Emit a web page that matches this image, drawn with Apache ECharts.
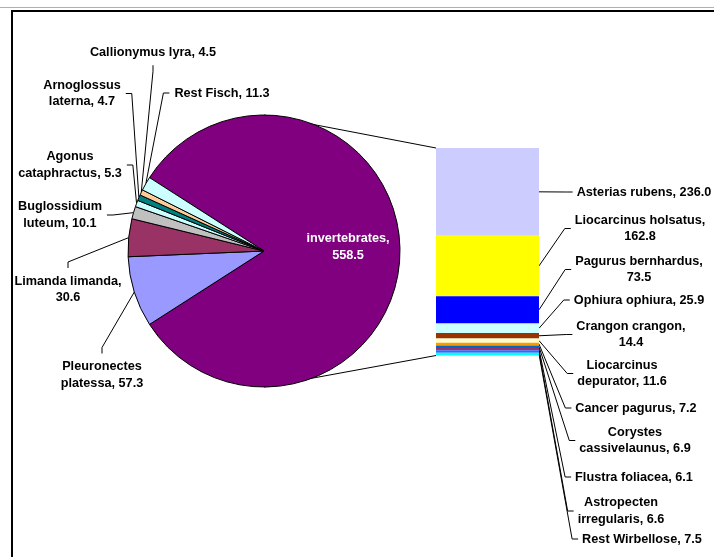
<!DOCTYPE html>
<html>
<head>
<meta charset="utf-8">
<script src="https://cdn.jsdelivr.net/npm/echarts@6/dist/echarts.min.js"></script>
<style>
  html, body { margin: 0; padding: 0; background: #fff; }
  #chart { width: 714px; height: 557px; }
</style>
</head>
<body>
<div id="chart"></div>
<script>
// main pie: invertebrates + fish species
const pieNames = ["invertebrates", "Pleuronectes platessa", "Limanda limanda", "Buglossidium luteum",
  "Agonus cataphractus", "Arnoglossus laterna", "Callionymus lyra", "Rest Fisch"];
const pieValues = [558.5, 57.3, 30.6, 10.1, 5.3, 4.7, 4.5, 11.3];
const pieColors = ["#800080", "#9999FF", "#993366", "#C0C0C0", "#CCFFFF", "#008080", "#FFCC99", "#CCFFFF"];
const pieLabels = ["invertebrates,\n558.5", "Pleuronectes\nplatessa, 57.3", "Limanda limanda,\n30.6",
  "Buglossidium\nluteum, 10.1", "Agonus\ncataphractus, 5.3", "Arnoglossus\nlaterna, 4.7",
  "Callionymus lyra, 4.5", "Rest Fisch, 11.3"];

// stacked bar: breakdown of invertebrates
const barNames = ["Asterias rubens", "Liocarcinus holsatus", "Pagurus bernhardus", "Ophiura ophiura",
  "Crangon crangon", "Liocarcinus depurator", "Cancer pagurus", "Corystes cassivelaunus",
  "Flustra foliacea", "Astropecten irregularis", "Rest Wirbellose"];
const barValues = [236.0, 162.8, 73.5, 25.9, 14.4, 11.6, 7.2, 6.9, 6.1, 6.6, 7.5];
const barColors = ["#CCCCFF", "#FFFF00", "#0000FF", "#CCFFFF", "#993300", "#FFFFCC", "#FF9900",
  "#0066CC", "#993366", "#3366FF", "#00FFFF"];
const barLabels = ["Asterias rubens, 236.0", "Liocarcinus holsatus,\n162.8", "Pagurus bernhardus,\n73.5",
  "Ophiura ophiura, 25.9", "Crangon crangon,\n14.4", "Liocarcinus\ndepurator, 11.6",
  "Cancer pagurus, 7.2", "Corystes\ncassivelaunus, 6.9", "Flustra foliacea, 6.1",
  "Astropecten\nirregularis, 6.6", "Rest Wirbellose, 7.5"];

// label placement (center of text block, side the leader line attaches to)
const PIE_CENTER = [264, 251];
const PIE_R = 136;
const pieLabelPos = [
  [348, 247, null], [102, 375, "top"], [68, 289.5, "top"], [60, 215, "right"],
  [70, 165, "right"], [82, 93.5, "right"], [153, 52, "bottom"], [222, 93, "left"]
];
const barLabelPos = [
  [644, 192], [640, 228.5], [639, 269.5], [639, 300], [631, 334.5], [622, 373.5],
  [636, 408], [635, 440.5], [634, 477], [621, 511], [642, 539]
];

const FONT = "'Liberation Sans', Arial, sans-serif";
const FONT_SIZE = 12.7;
const pieTotal = pieValues.reduce((a, b) => a + b, 0);
const barTotal = barValues.reduce((a, b) => a + b, 0);
const startAngle = 180 * pieValues[0] / pieTotal;

function pieAnchor(i) {
  let before = 0;
  for (let k = 0; k < i; k += 1) before += pieValues[k];
  const mid = startAngle - 360 * (before + pieValues[i] / 2) / pieTotal;
  const rad = mid * Math.PI / 180;
  return [PIE_CENTER[0] + PIE_R * Math.cos(rad), PIE_CENTER[1] - PIE_R * Math.sin(rad)];
}

// elbow point and end point of a leader line next to a label block
function leaderEnd(cx, cy, w, h, side, gap) {
  const stub = 6;
  if (side === "top") return [[cx, cy - h / 2 - gap - stub], [cx, cy - h / 2 - gap]];
  if (side === "bottom") return [[cx, cy + h / 2 + gap + stub], [cx, cy + h / 2 + gap]];
  if (side === "right") return [[cx + w / 2 + gap + stub, cy], [cx + w / 2 + gap, cy]];
  return [[cx - w / 2 - gap - stub, cy], [cx - w / 2 - gap, cy]];
}

const measureCtx = document.createElement("canvas").getContext("2d");
measureCtx.font = `bold ${FONT_SIZE}px ${FONT}`;
function blockWidth(text) {
  return Math.max(...text.split("\n").map((s) => measureCtx.measureText(s).width));
}

const labelStyle = {
  fontFamily: FONT,
  fontWeight: "bold",
  fontSize: FONT_SIZE,
  lineHeight: 16.5,
  color: "#000"
};

const pieData = pieValues.map((v, i) => {
  const item = {
    name: pieNames[i],
    value: v,
    itemStyle: { color: pieColors[i] },
    label: { formatter: pieLabels[i] }
  };
  if (i === 0) {
    item.label.position = "inside";
    item.label.color = "#fff";
    item.labelLine = { show: false };
  }
  return item;
});

const barSeries = barValues.map((v, i) => ({
  type: "bar",
  name: barNames[i],
  stack: "inv",
  barWidth: "100%",
  silent: true,
  data: [v],
  itemStyle: { color: barColors[i] },
  label: { show: true, position: "right", formatter: barLabels[i], ...labelStyle },
  labelLine: { show: false },
  labelLayout: () => ({
    x: barLabelPos[i][0], y: barLabelPos[i][1], align: "center", verticalAlign: "middle"
  })
}));

const chart = echarts.init(document.getElementById("chart"), null, { renderer: "canvas" });

chart.setOption({
  backgroundColor: "#ffffff",
  animation: false,
  grid: { left: 436, width: 103, top: 148, bottom: 557 - 355.5 },
  xAxis: { type: "category", data: ["invertebrates"], show: false },
  yAxis: { type: "value", min: 0, max: barTotal, inverse: true, show: false },
  series: [
    {
      type: "pie",
      center: PIE_CENTER,
      radius: PIE_R,
      startAngle: startAngle,
      clockwise: true,
      avoidLabelOverlap: false,
      silent: true,
      itemStyle: { borderColor: "#000", borderWidth: 1 },
      label: { show: true, position: "outside", ...labelStyle },
      labelLine: { show: true, lineStyle: { color: "#000", width: 1 } },
      labelLayout: (params) => {
        const i = params.dataIndex;
        const p = pieLabelPos[i];
        const out = { x: p[0], y: p[1], align: "center", verticalAlign: "middle" };
        if (p[2]) {
          const ends = leaderEnd(p[0], p[1], blockWidth(pieLabels[i]), params.labelRect.height, p[2], 5);
          out.labelLinePoints = [pieAnchor(i), ends[0], ends[1]];
        }
        return out;
      },
      data: pieData
    },
    ...barSeries
  ]
});

// connector lines from the pie to the bar, bar leader lines, and frame
const gridRect = chart.getModel().getComponent("grid", 0).coordinateSystem.getRect();
const barRight = gridRect.x + gridRect.width;
const leaders = [];
let cum = 0;
barValues.forEach((v, i) => {
  const y = chart.convertToPixel({ gridIndex: 0 }, [0, cum + v / 2])[1];
  cum += v;
  const p = barLabelPos[i];
  const ends = leaderEnd(p[0], p[1], blockWidth(barLabels[i]), 0, "left", 4);
  leaders.push({
    type: "polyline", silent: true,
    shape: { points: [[barRight, y], ends[0], ends[1]] },
    style: { stroke: "#000", lineWidth: 1, fill: null }
  });
});

chart.setOption({
  graphic: [
    {
      type: "line", silent: true,
      shape: { x1: 0, y1: 7.5, x2: 714, y2: 7.5 },
      style: { stroke: "#b0b0b0", lineWidth: 1 }
    },
    {
      type: "rect", silent: true,
      shape: { x: 12, y: 11, width: 720, height: 560 },
      style: { fill: null, stroke: "#000", lineWidth: 2 }
    },
    {
      type: "line", silent: true,
      shape: { x1: PIE_CENTER[0], y1: PIE_CENTER[1] - PIE_R, x2: gridRect.x, y2: gridRect.y },
      style: { stroke: "#000", lineWidth: 1 }
    },
    {
      type: "line", silent: true,
      shape: { x1: PIE_CENTER[0], y1: PIE_CENTER[1] + PIE_R, x2: gridRect.x, y2: gridRect.y + gridRect.height },
      style: { stroke: "#000", lineWidth: 1 }
    },
    ...leaders
  ]
});
</script>
</body>
</html>
